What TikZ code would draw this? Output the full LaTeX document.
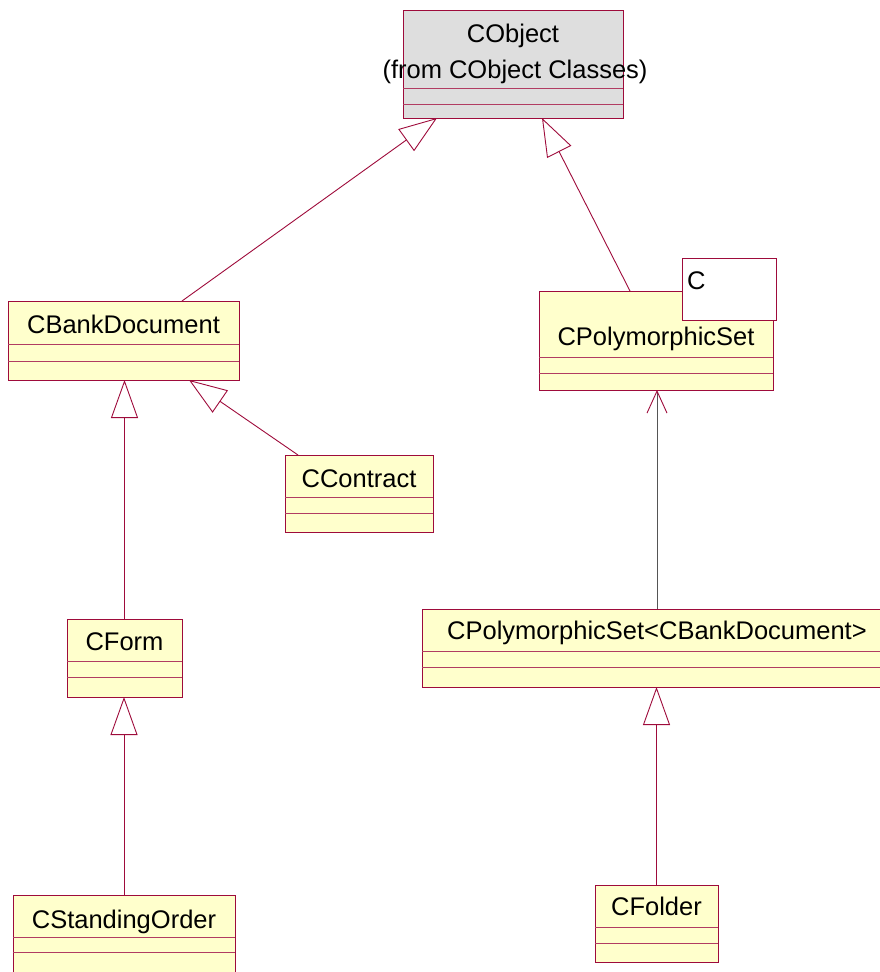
\documentclass[tikz,border=0pt]{standalone}
\usepackage{fontspec}
\setmainfont{Liberation Sans}
\usetikzlibrary{arrows.meta,positioning,calc}
\definecolor{umlred}{HTML}{9E0B3B}
\definecolor{umlfill}{HTML}{FFFFCC}
\definecolor{objfill}{HTML}{DEDEDE}
\definecolor{instgray}{HTML}{555555}
\newcommand{\classfont}{\fontsize{25.5}{30}\selectfont}
\tikzset{
  classbox/.style={draw=umlred,fill=umlfill,line width=1pt,inner sep=0pt,outer sep=0pt},
  parambox/.style={classbox,fill=white},
  classname/.style={font=\classfont,text=black,inner sep=0pt,text height=18pt,text depth=0pt},
  sepline/.style={draw=umlred!80,line width=0.9pt},
  inherit/.style={draw=umlred,line width=0.9pt,-{Triangle[open,length=38pt,width=27pt]}},
  instarrow/.style={draw=instgray,line width=0.9pt,-{Straight Barb[length=22pt,width=20pt,color=umlred]}},
}
% two empty compartments, given by their offsets above the bottom edge
\newcommand{\compartments}[3]{%
  \draw[sepline] ([yshift=#2]#1.south west) -- ([yshift=#2]#1.south east);
  \draw[sepline] ([yshift=#3]#1.south west) -- ([yshift=#3]#1.south east);
}
\begin{document}
\begin{tikzpicture}[x=1pt,y=-1pt]
  \useasboundingbox (0,0) rectangle (880,972);
  \clip (0,0) rectangle (880,972);

  % top class
  \node[classbox,fill=objfill,minimum width=220pt,minimum height=108pt] (cobject) at (513,64) {};
  \compartments{cobject}{30pt}{14pt}
  \node[classname] (cobject-name) at ([yshift=-23.5pt]cobject.north) {CObject};
  \node[classname] (cobject-from) at ([xshift=2pt,yshift=-59.5pt]cobject.north) {(from CObject Classes)};

  % left branch
  \node[classbox,minimum width=231pt,minimum height=79pt] (bankdoc) at (123.5,340.5) {};
  \compartments{bankdoc}{36pt}{19pt}
  \node[classname] (bankdoc-name) at ([yshift=-23pt]bankdoc.north) {CBankDocument};

  \node[classbox,minimum width=148pt,minimum height=77pt] (contract) at (359,493.5) {};
  \compartments{contract}{35pt}{19pt}
  \node[classname] (contract-name) at ([yshift=-23pt]contract.north) {CContract};

  \node[classbox,minimum width=115pt,minimum height=78pt] (form) at (124.5,658) {};
  \compartments{form}{36pt}{20pt}
  \node[classname] (form-name) at ([yshift=-22pt]form.north) {CForm};

  \node[classbox,minimum width=222pt,minimum height=79pt] (standing) at (124,934.5) {};
  \compartments{standing}{37pt}{22pt}
  \node[classname] (standing-name) at ([yshift=-24.5pt]standing.north) {CStandingOrder};

  % right branch
  \node[classbox,minimum width=234pt,minimum height=99pt] (polyset) at (656,340.5) {};
  \compartments{polyset}{33pt}{17pt}
  \node[classname] (polyset-name) at ([yshift=-45pt]polyset.north) {CPolymorphicSet};
  \node[parambox,minimum width=94pt,minimum height=62pt] (tparam) at (729,289) {};
  \node[classname,anchor=west] (tparam-name) at ([xshift=5pt,yshift=-22pt]tparam.north west) {C};

  \node[classbox,minimum width=470pt,minimum height=78pt] (polybank) at (657,648) {};
  \compartments{polybank}{36pt}{20pt}
  \node[classname] (polybank-name) at ([yshift=-21.5pt]polybank.north) {CPolymorphicSet<CBankDocument>};

  \node[classbox,minimum width=123pt,minimum height=77pt] (folder) at (656.5,923.5) {};
  \compartments{folder}{35pt}{19pt}
  \node[classname] (folder-name) at ([yshift=-21.5pt]folder.north) {CFolder};

  % generalisations
  \draw[inherit] ([xshift=58.5pt]bankdoc.north) -- ([xshift=-76pt]cobject.south);
  \draw[inherit] ([xshift=-26pt]polyset.north) -- ([xshift=29pt]cobject.south);
  \draw[inherit] (form.north) -- (form.north |- bankdoc.south);
  \draw[inherit] ([xshift=13pt]contract.north west) -- ([xshift=65.5pt]bankdoc.south);
  \draw[inherit] (standing.north) -- (standing.north |- form.south);
  \draw[inherit] (folder.north) -- (folder.north |- polybank.south);
  % instantiation
  \draw[instarrow] (polybank.north) -- (polybank.north |- polyset.south);
\end{tikzpicture}
\end{document}
